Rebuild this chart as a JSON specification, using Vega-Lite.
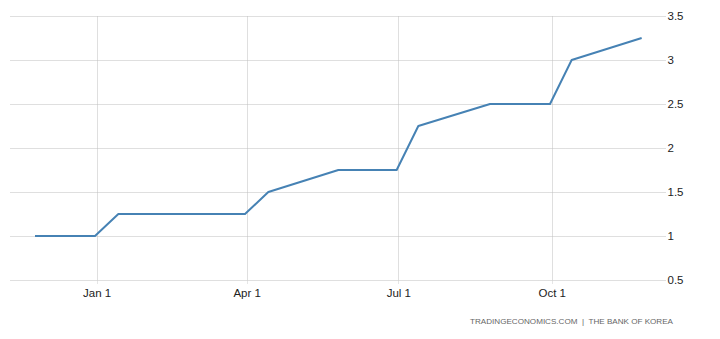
{
  "$schema": "https://vega.github.io/schema/vega-lite/v6.json",
  "width": 655,
  "height": 264,
  "autosize": "none",
  "padding": {"left": 10, "top": 16, "right": 55, "bottom": 59},
  "background": "white",
  "title": {
    "text": "TRADINGECONOMICS.COM \u00a0|\u00a0 THE BANK OF KOREA",
    "orient": "bottom",
    "anchor": "end",
    "frame": "group",
    "font": "Liberation Sans",
    "fontSize": 8.1,
    "fontWeight": "normal",
    "color": "#666666",
    "offset": 19,
    "dx": 8
  },
  "data": {
    "values": [
      {"date": "2021-11-25", "rate": 1.0},
      {"date": "2021-12-31", "rate": 1.0},
      {"date": "2022-01-14", "rate": 1.25},
      {"date": "2022-02-24", "rate": 1.25},
      {"date": "2022-03-31", "rate": 1.25},
      {"date": "2022-04-14", "rate": 1.5},
      {"date": "2022-05-26", "rate": 1.75},
      {"date": "2022-06-30", "rate": 1.75},
      {"date": "2022-07-13", "rate": 2.25},
      {"date": "2022-08-25", "rate": 2.5},
      {"date": "2022-09-30", "rate": 2.5},
      {"date": "2022-10-13", "rate": 3.0},
      {"date": "2022-11-24", "rate": 3.25}
    ]
  },
  "mark": {"type": "line", "color": "#4682b4", "strokeWidth": 2, "strokeJoin": "round"},
  "encoding": {
    "x": {
      "field": "date",
      "type": "temporal",
      "scale": {"type": "utc", "domain": [{"year": 2021, "month": 11, "date": 10, "utc": true}, {"year": 2022, "month": 12, "date": 8, "utc": true}]},
      "axis": {
        "title": null,
        "values": [
          {"year": 2022, "month": 1, "date": 1, "utc": true},
          {"year": 2022, "month": 4, "date": 1, "utc": true},
          {"year": 2022, "month": 7, "date": 1, "utc": true},
          {"year": 2022, "month": 10, "date": 1, "utc": true}
        ],
        "labelExpr": "utcFormat(datum.value, '%b %-d')",
        "domain": false,
        "ticks": true,
        "tickSize": 3,
        "tickColor": "#cccccc",
        "tickDash": [1, 1],
        "grid": true,
        "gridColor": "#bfbfbf",
        "gridDash": [1, 1],
        "labelFont": "Liberation Sans",
        "labelFontSize": 11.5,
        "labelColor": "#222222",
        "labelPadding": 4
      }
    },
    "y": {
      "field": "rate",
      "type": "quantitative",
      "scale": {"domain": [0.5, 3.5], "nice": false, "zero": false},
      "axis": {
        "orient": "right",
        "title": null,
        "values": [0.5, 1, 1.5, 2, 2.5, 3, 3.5],
        "format": "~g",
        "domain": false,
        "ticks": false,
        "grid": true,
        "gridColor": "#bfbfbf",
        "gridDash": [1, 1],
        "labelFont": "Liberation Sans",
        "labelFontSize": 11.5,
        "labelColor": "#222222",
        "labelPadding": 2,
        "labelAlign": "left",
        "labelBaseline": "middle"
      }
    }
  },
  "config": {"view": {"stroke": null}}
}
